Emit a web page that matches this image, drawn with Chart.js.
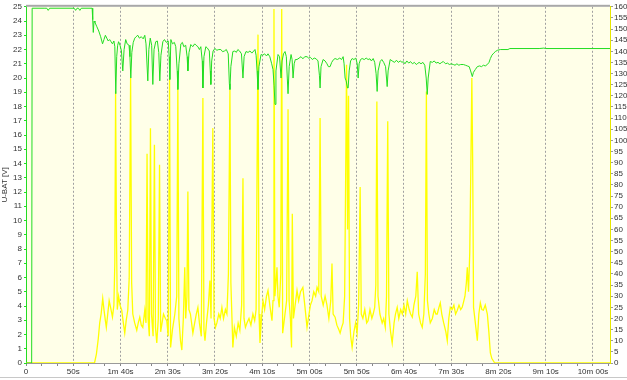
<!DOCTYPE html>
<html><head><meta charset="utf-8">
<style>html,body{margin:0;padding:0;background:#fff;} #wrap{width:627px;height:380px;position:relative;}</style>
<script src="https://cdn.jsdelivr.net/npm/chart.js@4.4.0/dist/chart.umd.min.js"></script>
</head><body><div id="wrap"><canvas id="c" width="627" height="380"></canvas></div>
<script>
// U-BAT [V] (left axis): [time s, volts]
const uBat = [[0,0],[6,0],[6.5,24.9],[20,24.9],[22,24.9],[23.5,24.75],[25,24.9],[51,24.9],[52.5,24.75],[54,24.9],[55.5,24.9],[57,24.75],[58.5,24.9],[70,24.9],[70.6,24.1],[71.2,23.2],[72,24.0],[73,23.9],[75,23.6],[77,23.3],[79,22.9],[81,22.4],[82.5,22.7],[84,23.0],[85.5,22.8],[87,22.6],[88.5,22.7],[90,22.55],[91.5,22.4],[93,22.6],[94,22.2],[95,18.9],[96,21.5],[97,22.3],[98,22.55],[99.5,22.3],[101,21.9],[102.4,20.5],[103.8,22.0],[105.5,22.7],[107,22.4],[109,22.3],[110,21.5],[110.9,20.0],[112,21.8],[113.5,22.5],[115.1,22.8],[116.5,22.9],[118.3,23.0],[120,22.8],[122,22.9],[124,22.75],[125.7,23.0],[127,22.4],[128.9,19.8],[130,22.0],[131.5,22.8],[133,22.3],[134.2,19.55],[135.5,22.0],[137.3,22.55],[139,22.6],[140.5,21.8],[141.6,19.8],[142.8,21.6],[144.8,22.55],[146.5,22.7],[148.5,22.5],[150.5,22.6],[151.5,21.5],[152.2,19.9],[153.3,22.7],[155,22.4],[157,22.5],[158.5,22.2],[160,20.5],[160.7,19.2],[161.8,21.0],[163.9,22.4],[165.5,22.5],[167,22.2],[169,22.3],[170.5,21.5],[171.3,20.5],[172.5,21.8],[174.4,22.35],[176.5,22.2],[178.5,22.4],[180,22.3],[181.9,22.2],[183.5,22.0],[185,22.2],[186.5,21.2],[187.2,19.3],[188.3,21.5],[190.3,22.2],[192,22.1],[194,21.9],[195,20.5],[195.6,19.55],[196.5,21.2],[198,21.9],[199.9,22.07],[202,21.95],[204,22.0],[206.2,22.0],[208,21.85],[210,21.9],[212,22.0],[214,21.7],[215.2,19.6],[215.8,19.2],[216.8,20.8],[218.9,21.86],[221,21.9],[222.5,21.8],[224.2,22.0],[226,21.9],[228,21.7],[229.6,20.0],[230.8,21.5],[232.8,21.86],[235,21.8],[237,21.9],[239,21.75],[241,21.9],[242.3,22.0],[243.5,21.6],[244.5,20.5],[245.5,19.2],[246.5,20.8],[248.7,21.65],[250.5,21.6],[252.5,21.7],[254.5,21.55],[256.1,21.7],[258,21.5],[260,21.0],[261.4,20.6],[262.5,19.5],[263.5,18.15],[264.5,20.5],[266.7,21.65],[268.3,21.5],[269.9,20.0],[271,21.2],[272.5,21.7],[274.1,21.86],[275.5,21.5],[276.5,20.0],[277.3,18.9],[278.5,20.8],[280.5,21.65],[281.6,21.3],[282.6,20.0],[283.8,21.0],[285,21.3],[286.8,21.3],[289,21.4],[291,21.5],[293,21.35],[295,21.5],[297.4,21.5],[299,21.4],[301,21.45],[303,21.3],[305,21.4],[307,21.35],[309,21.2],[310.5,20.2],[311.2,19.3],[312.2,20.8],[314.4,21.3],[316.5,21.2],[318.5,21.0],[320,20.8],[321.8,20.8],[323.5,21.1],[325.5,21.3],[327.1,21.37],[329.5,21.3],[332,21.4],[334,21.3],[335.6,21.5],[336.6,21.0],[337.7,20.0],[338.8,19.8],[340.2,19.3],[340.9,19.3],[342,20.5],[343.5,21.2],[345.1,21.37],[347,21.3],[349,21.4],[350.5,21.0],[351.5,20.0],[352.5,21.0],[354,21.3],[355.7,21.37],[358,21.3],[360,21.4],[362,21.3],[364,21.35],[365.5,21.2],[367.4,21.37],[369,21.1],[370.5,20.3],[371.6,19.06],[372.6,20.5],[374.8,21.16],[376.5,21.3],[378.5,21.1],[380.5,20.8],[381.5,20.0],[382.2,19.4],[383.2,20.5],[385.4,21.3],[387.5,21.2],[390,21.1],[392,21.25],[394,21.1],[396,21.2],[398,21.1],[399.2,21.16],[401,21.0],[403,21.2],[405,21.05],[407,21.15],[409,21.0],[411,21.1],[413,20.95],[414,21.0],[416,21.1],[418,21.0],[420,21.1],[422,20.9],[423.5,20.0],[424.6,18.85],[425.6,20.0],[427.8,21.16],[430,21.1],[432,21.2],[434,21.05],[436,21.1],[438,21.0],[440,21.1],[441.6,21.16],[444,21.0],[446,21.05],[448,20.95],[450,21.0],[452.2,20.95],[454,20.9],[456,21.0],[458,20.9],[460,20.95],[462.8,20.95],[465,20.9],[467,20.85],[469,20.8],[470.5,20.5],[472.3,20.1],[473.5,20.4],[475.5,20.6],[477.6,20.8],[480,20.85],[482,20.8],[484,20.9],[486,20.85],[488.2,20.95],[490,21.1],[491.4,21.37],[493,21.6],[495,21.75],[496.7,21.86],[499,21.95],[502,22.0],[510,22.0],[512,22.07],[543,22.07],[548,22.1],[550,22.07],[618,22.07]];

// Second channel (right axis 0..160): [time s, value]
const current = [[0,0],[72.5,0],[74.5,4],[76.5,11],[78,18],[79.5,22],[81.2,29],[82.5,24],[84,19],[85,16],[86.5,22],[88,28],[89.5,25],[91.5,20.6],[93,26],[94,45],[94.8,122],[95.8,55],[96.6,24],[98,30],[99.5,26],[101.3,23.7],[103,18],[104.5,13.4],[106,19],[107.7,23.7],[109.2,38],[110.7,128],[111.8,36],[113,22],[115,18],[117.2,14.7],[118.8,18],[120.4,20.6],[122,17],[123.6,16],[125.7,23.7],[127,18],[128.1,94],[129.2,20],[130.5,12],[131.7,105.5],[132.8,22],[134.5,12],[135.9,98],[137,16],[138.4,9],[140,20],[141.3,89],[142.5,14],[144,18],[145.5,22],[147.5,20],[149,19],[150.5,12],[151.9,128],[153,7],[155,15],[157.5,22],[159.5,30],[160.7,123],[161.8,20],[163.5,10],[164.9,5.8],[166.5,20],[168,43],[169,20],[170.3,30],[171.3,77],[172.4,24],[174,22],[176.6,13.4],[178.5,18],[180.2,22],[181.9,25],[183.5,18],[185.5,12],[187.2,119],[188.3,15],[189.4,10],[191,18],[193,26],[194.6,37],[195.8,20],[197.7,105.5],[199,20],[200.5,16],[202,18],[204,22],[205.5,20],[207.3,25],[209,20],[211,24],[212.6,22],[214.2,40],[215.8,123],[216.8,36],[218.9,7],[220.5,16],[222.5,12],[224.5,18],[226.3,14.7],[228.2,26],[229.6,83],[230.7,20],[232.2,16],[233.8,18],[236,20],[238,17],[240.1,22],[242,19],[243.5,24],[245.5,147.5],[246.6,22],[247.6,9],[249.2,20],[250.8,28],[252.5,24],[254.5,30],[256.1,32.6],[258,26],[260.3,19],[261.4,28],[262.4,159],[263.4,30],[264.5,36],[265.6,43],[266.6,30],[268,25],[269.6,40],[270.6,159],[271.6,13.4],[273.5,20],[275.8,28],[277.3,114],[278.4,28],[279.8,20],[281,7],[281.8,67],[283,20],[284.8,26],[286.8,32.6],[288.5,28],[290.5,32],[293,34],[295,26],[297.4,16],[299.5,22],[301,26],[302.7,28],[304.5,32],[306.5,30],[308,34],[309.8,32],[311.2,110],[312.4,30],[314.5,26],[316.5,30],[318.5,26],[320.5,20],[322.5,28],[323.8,44.7],[325,22],[327.1,20.6],[329,17],[331,15],[332.4,13.4],[334,16],[335.6,18],[337.2,30],[338.2,80],[339.2,134],[340.3,60],[341.3,120],[342.4,20],[343.6,12],[345.1,7],[347,14],[348.8,18],[350.4,13.4],[352,26],[353.6,79],[354.8,22],[356.5,20],[358.5,24],[360.5,18],[362,19],[364,24],[366,20],[367.4,22],[369,25],[370.2,35],[371.3,117.5],[372.5,30],[374.5,22],[376.9,18],[378.5,20],[380.2,16],[381.5,30],[382.8,108.6],[384,22],[385.8,14],[387.5,9],[389.5,18],[391,22],[392.8,25],[394.5,20],[396.5,24],[398.2,22],[400,26],[401.8,22],[403.5,28],[405.5,24],[407,22],[408.8,20.6],[410.5,26],[412.5,30],[414,41],[415.5,22],[417.5,18],[419.3,16],[421,22],[422.6,40],[423.7,122],[424.8,28],[426.3,22],[427.8,18],[430,20],[432,24],[433.8,22],[435.2,22],[437,25],[438.4,27],[440,22],[442,18],[444.3,14],[445.8,10],[447.4,20],[449,25],[451,24],[452.8,26],[454.6,22],[456.4,23.7],[458.2,26],[460,24],[461.6,25],[462.8,27],[464.5,30],[466,36],[467,43],[468.3,32],[469.6,50],[470.8,90],[471.8,128],[472.7,90],[473.6,25],[475.5,18],[477.6,10],[479.2,22],[480.8,27],[482.4,24],[484,23.7],[486,26],[488.2,22],[489.8,14],[491.4,4.5],[493,2],[494.5,1],[496,0],[618,0]];

const xMax = 618;          // seconds
const xMajor = 50;         // labelled grid every 50 s
const xMinorPerMajor = 3;
const leftMax = 25, leftStep = 1;
const rightMax = 160, rightStep = 5;
const yTitle = 'U-BAT [V]';

const FONT = {family:'"Liberation Sans", Arial, sans-serif', size:8};
const isMajor = v => Math.abs(v / xMajor - Math.round(v / xMajor)) < 1e-6;
const fmtTime = v => {
  if (Math.abs(v) < 1e-6) return '0';
  const tot = Math.round(v), m = Math.floor(tot / 60), s = tot % 60;
  return m ? `${m}m ${String(s).padStart(2,'0')}s` : `${s}s`;
};

const frame = {
  id:'frame',
  beforeDraw(chart){
    const {ctx, chartArea:a} = chart;
    ctx.save();
    ctx.fillStyle = '#ffffff';
    ctx.fillRect(0,0,chart.width,chart.height);
    ctx.fillStyle = '#ffffe8';
    ctx.fillRect(a.left, a.top, a.right-a.left, a.bottom-a.top);
    ctx.restore();
  },
  afterDraw(chart){
    const {ctx, chartArea:a} = chart;
    ctx.save();
    ctx.fillStyle = '#a8a8a8';
    ctx.fillRect(a.left, a.top-2, a.right-a.left, 2);
    ctx.fillStyle = '#c8c8c8';
    ctx.fillRect(0, 377, chart.width, 1);
    ctx.restore();
  }
};

new Chart(document.getElementById('c'), {
  type:'line',
  data:{datasets:[
    {label:'U-BAT', data:uBat.map(([x,y])=>({x,y})), yAxisID:'y', borderColor:'#22dd22', borderWidth:1, pointRadius:0, tension:0, order:0},
    {label:'CH2', data:current.map(([x,y])=>({x,y})), yAxisID:'y1', borderColor:'#ffff00', borderWidth:1.3, pointRadius:0, tension:0, order:1}
  ]},
  options:{
    responsive:false, animation:false, devicePixelRatio:1,
    layout:{padding:{top:5,left:0,right:0,bottom:0}},
    plugins:{legend:{display:false}, tooltip:{enabled:false}},
    scales:{
      x:{type:'linear', min:0, max:xMax,
        afterBuildTicks(s){ const t=[]; for(let i=0;i*xMajor/xMinorPerMajor<=xMax+1e-6;i++) t.push({value:i*xMajor/xMinorPerMajor}); s.ticks=t; },
        afterFit(s){ s.height = 17; },
        ticks:{autoSkip:false, maxRotation:0, minRotation:0, padding:1, color:'#333', font:FONT,
          callback:(v)=> isMajor(v) ? fmtTime(v) : ''},
        grid:{color:(c)=> (c.tick && isMajor(c.tick.value) && c.tick.value>0) ? '#a0a0a0' : 'rgba(0,0,0,0)',
          tickBorderDash:[], tickColor:'#888', tickLength:3, lineWidth:1},
        border:{color:'#9a9a9a', width:1, dash:[2,2]}
      },
      y:{position:'left', min:0, max:leftMax,
        afterBuildTicks(s){ const t=[]; for(let v=0; v<=leftMax; v+=leftStep) t.push({value:v}); s.ticks=t; },
        afterFit(s){ s.width = 26; },
        ticks:{autoSkip:false, padding:2, color:'#333', font:FONT},
        title:{display:true, text:yTitle, color:'#333', font:FONT, padding:{top:0,bottom:0}},
        grid:{drawOnChartArea:false, tickLength:2, tickColor:'#22dd22'},
        border:{color:'#22dd22', width:1}
      },
      y1:{position:'right', min:0, max:rightMax,
        afterBuildTicks(s){ const t=[]; for(let v=0; v<=rightMax; v+=rightStep) t.push({value:v}); s.ticks=t; },
        afterFit(s){ s.width = 17; },
        ticks:{autoSkip:false, padding:1, color:'#333', font:FONT},
        grid:{drawOnChartArea:false, tickLength:3, tickColor:'#999'},
        border:{color:'#e6e600', width:1}
      }
    }
  },
  plugins:[frame]
});
</script></body></html>
